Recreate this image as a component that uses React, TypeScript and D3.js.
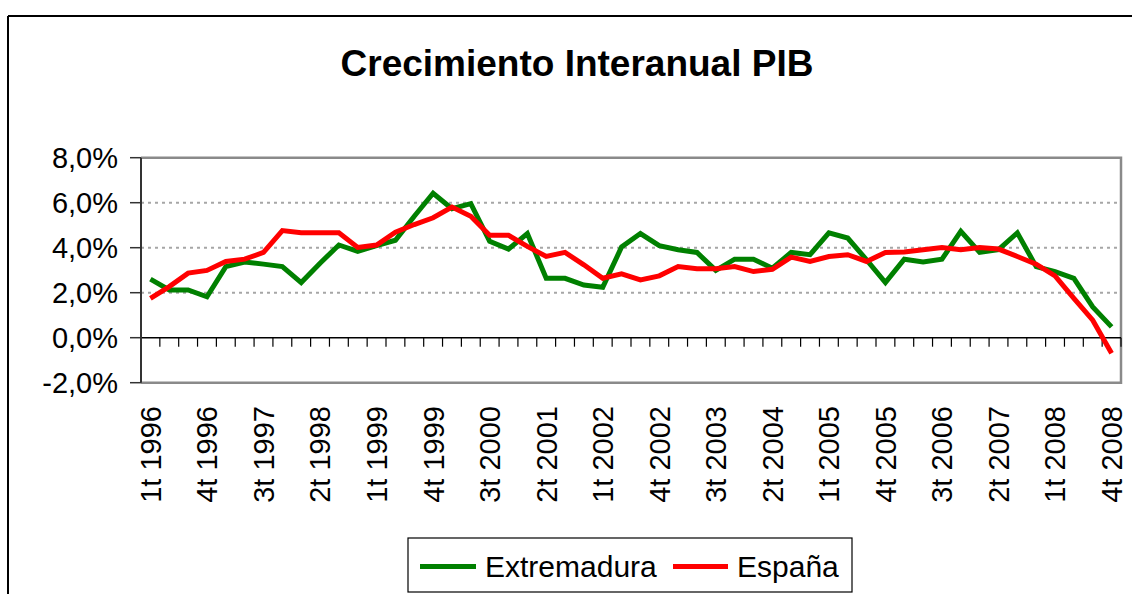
import React from "react";
import * as d3 from "d3";

const years = ["1996","1997","1998","1999","2000","2001","2002","2003","2004","2005","2006","2007","2008"];
const quarters = years.flatMap((y) => ["1t","2t","3t","4t"].map((q) => `${q} ${y}`));

const extremadura = [
  2.6, 2.12, 2.12, 1.82, 3.16, 3.36, 3.27, 3.16, 2.45, 3.31,
  4.12, 3.84, 4.09, 4.33, 5.4, 6.42, 5.73, 5.96, 4.28, 3.94,
  4.63, 2.64, 2.64, 2.34, 2.24, 4.03, 4.63, 4.09, 3.91, 3.79,
  2.99, 3.49, 3.49, 3.09, 3.79, 3.69, 4.66, 4.43, 3.46, 2.45,
  3.49, 3.37, 3.49, 4.73, 3.79, 3.91, 4.66, 3.16, 2.94, 2.64,
  1.37, 0.48,
];
const espana = [
  1.75, 2.27, 2.87, 2.99, 3.39, 3.49, 3.79, 4.76, 4.66, 4.66,
  4.66, 4.01, 4.12, 4.69, 5.03, 5.33, 5.81, 5.4, 4.55, 4.55,
  4.06, 3.61, 3.79, 3.24, 2.64, 2.84, 2.57, 2.75, 3.16, 3.06,
  3.06, 3.16, 2.94, 3.04, 3.58, 3.39, 3.61, 3.69, 3.39, 3.79,
  3.81, 3.91, 4.01, 3.91, 4.01, 3.94, 3.61, 3.27, 2.75, 1.75,
  0.78, -0.69,
];
const yTicks = [-2, 0, 2, 4, 6, 8];
const gridTicks = [2, 4, 6];
const series = [
  { name: "Extremadura", values: extremadura, color: "#008000" },
  { name: "España", values: espana, color: "#FF0000" },
];

const W = 1132;
const H = 594;
const left = 141;
const right = 1121;
const top = 157.7;
const bottom = 382.7;
const FONT = "Arial, 'Liberation Sans', sans-serif";

export default function App() {
  const x = d3.scaleBand<string>().domain(quarters).range([left, right]).padding(0);
  const y = d3.scaleLinear().domain([-2, 8]).range([bottom, top]);
  const cx = (q: string) => (x(q) as number) + x.bandwidth() / 2;
  const line = d3
    .line<number>()
    .x((_, i) => cx(quarters[i]))
    .y((d) => y(d));
  const fmt = (v: number) => v.toFixed(1).replace(".", ",") + "%";
  const boundaries = d3.range(quarters.length + 1).map((k) => left + k * x.bandwidth());
  const labelIdx = quarters.map((_, i) => i).filter((i) => i % 3 === 0);

  return (
    <svg width={W} height={H} style={{ position: "absolute", left: 0, top: 0, background: "#fff" }}>
      <rect x={0} y={0} width={W} height={H} fill="#fff" />
      {/* outer frame */}
      <line x1={8} y1={16} x2={W} y2={16} stroke="#000" strokeWidth={2} />
      <line x1={8} y1={16} x2={8} y2={H} stroke="#000" strokeWidth={2} />
      <text x={577} y={76} textAnchor="middle" fontFamily={FONT} fontWeight="bold" fontSize={37}>
        Crecimiento Interanual PIB
      </text>
      {/* gridlines */}
      {gridTicks.map((t) => (
        <line key={t} x1={left} x2={right} y1={y(t)} y2={y(t)} stroke="#a6a6a6" strokeWidth={2} strokeDasharray="3,4" />
      ))}
      {/* plot border */}
      <path d={`M${left},${top}H${right}V${bottom}H${left}`} fill="none" stroke="#8a8a8a" strokeWidth={2.5} />
      {/* zero axis */}
      <line x1={left} x2={right} y1={y(0)} y2={y(0)} stroke="#000" strokeWidth={1.5} />
      {boundaries.map((bx, k) => (
        <line key={k} x1={bx} x2={bx} y1={y(0)} y2={y(0) + 9} stroke="#000" strokeWidth={1.2} />
      ))}
      {/* y axis */}
      <line x1={left} x2={left} y1={top} y2={bottom} stroke="#333" strokeWidth={2} />
      {yTicks.map((t) => (
        <g key={t}>
          <line x1={left - 11} x2={left} y1={y(t)} y2={y(t)} stroke="#333" strokeWidth={1.5} />
          <text x={118} y={y(t)} dy="0.36em" textAnchor="end" fontFamily={FONT} fontSize={29}>
            {fmt(t)}
          </text>
        </g>
      ))}
      {/* x labels */}
      {labelIdx.map((i) => (
        <text
          key={i}
          transform={`translate(${cx(quarters[i])},${406}) rotate(-90)`}
          dy="0.36em"
          textAnchor="end"
          fontFamily={FONT}
          fontSize={29}
        >
          {quarters[i]}
        </text>
      ))}
      {/* series */}
      {series.map((s) => (
        <path key={s.name} d={line(s.values) || ""} fill="none" stroke={s.color} strokeWidth={5} />
      ))}
      {/* legend */}
      <rect x={408} y={538} width={444} height={54} fill="#fff" stroke="#000" strokeWidth={1.2} />
      <line x1={420} x2={476} y1={566.5} y2={566.5} stroke={series[0].color} strokeWidth={5} />
      <text x={485} y={566.5} dy="0.36em" fontFamily={FONT} fontSize={30}>{series[0].name}</text>
      <line x1={673} x2={728} y1={566.5} y2={566.5} stroke={series[1].color} strokeWidth={5} />
      <text x={737} y={566.5} dy="0.36em" fontFamily={FONT} fontSize={30}>{series[1].name}</text>
    </svg>
  );
}
